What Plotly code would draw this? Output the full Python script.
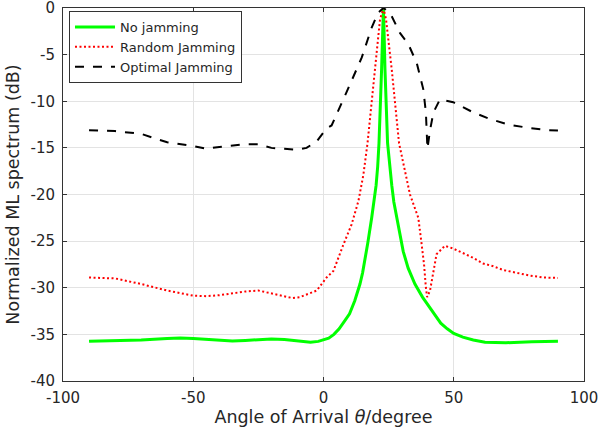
import plotly.graph_objects as go

# ---- data ----
theta_none = [-90, -80, -70, -60, -55, -50, -45, -40, -35, -30, -25, -20, -15, -10, -5, -2,
              0, 2, 4, 6, 8, 10, 12, 14, 15, 16, 17, 18.5, 19.5, 20.2, 20.8, 21.3, 22.3, 22.8, 23,
              23.2, 23.6, 24.6, 25.4, 26.2, 27, 28.1, 29.3, 30.6, 32.5, 35.1, 38, 40.9, 43, 45,
              47.5, 50, 53.5, 57.5, 62, 70, 80, 90]
ml_none = [-35.75, -35.7, -35.6, -35.45, -35.4, -35.45, -35.55, -35.65, -35.7, -35.65, -35.55, -35.5, -35.55, -35.7, -35.85, -35.75,
           -35.6, -35.4, -35.0, -34.4, -33.6, -32.8, -31.4, -29.6, -28.4, -26.9, -25.2, -22.5, -20.6, -19.0, -17.0, -14.5, -6.6, -2.0, 0.0,
           -2.0, -6.6, -14.5, -17.2, -19.0, -20.8, -22.5, -24.4, -26.1, -27.9, -29.6, -31.0, -32.2, -33.1, -33.8,
           -34.4, -34.9, -35.3, -35.6, -35.85, -35.9, -35.8, -35.75]

theta_random = [-90, -80, -70, -60, -50, -45, -40, -35, -30, -25, -20, -15, -12, -9, -5, -2.6,
                1.2, 3.8, 7.6, 10.8, 13.4, 15.3, 16.9, 19.8, 21.7, 23, 24, 26.2, 29, 33.2,
                36.4, 37.7, 38.6, 39.3, 39.8, 40.9, 42.1, 43.4, 46.6, 49.8, 53.7, 57.5, 61.3,
                65.2, 69, 74.2, 79.3, 84.4, 90]
ml_random = [-28.9, -29.0, -29.6, -30.3, -30.85, -30.9, -30.8, -30.6, -30.4, -30.3, -30.6, -30.9, -31.1, -31.0, -30.6, -30.3,
             -28.9, -28.2, -25.4, -23.2, -20.7, -17.9, -14.5, -6.6, -1.2, 0.0, -1.2, -6.6, -14.5, -20.0,
             -22.5, -25.4, -27.5, -30.0, -31.0, -30.3, -28.2, -26.4, -25.5, -25.8, -26.3, -26.8, -27.4,
             -27.7, -28.1, -28.4, -28.7, -28.9, -28.95]

theta_optimal = [-90, -80, -70, -60, -50, -45, -40, -30, -25, -20, -15, -10, -6.5, -2.6, 1.2,
                 3.1, 8.9, 11.4, 14.7, 18.5, 21, 23, 25.5, 29.4, 32.6, 35.8, 38.3, 39.3, 39.9,
                 40.9, 42.2, 44.7, 49.8, 57.5, 63.9, 71, 78.6, 86.3, 90]
ml_optimal = [-13.1, -13.2, -13.5, -14.4, -14.8, -15.1, -14.9, -14.6, -14.6, -15.0, -15.1, -15.2, -15.0, -14.3, -12.9,
              -12.6, -9.0, -7.4, -5.3, -2.1, -0.5, 0.0, -0.5, -2.7, -3.9, -5.9, -8.7, -11.2, -15.1,
              -13.1, -11.2, -9.8, -10.1, -11.2, -11.9, -12.5, -12.85, -13.1, -13.15]

x_ticks = [-100, -50, 0, 50, 100]
x_ticklabels = ["-100", "-50", "0", "50", "100"]
y_ticks = [-40, -35, -30, -25, -20, -15, -10, -5, 0]
y_ticklabels = ["-40", "-35", "-30", "-25", "-20", "-15", "-10", "-5", "0"]

FONT = "DejaVu Sans"
TXT = "#262626"

fig = go.Figure()
fig.add_trace(go.Scatter(x=theta_none, y=ml_none, mode="lines", name="No jamming",
                         line=dict(color="#00ff00", width=3)))
fig.add_trace(go.Scatter(x=theta_random, y=ml_random, mode="lines", name="Random Jamming",
                         line=dict(color="#ff0000", width=2, dash="2px,2.5px")))
fig.add_trace(go.Scatter(x=theta_optimal, y=ml_optimal, mode="lines", name="Optimal Jamming",
                         line=dict(color="#000000", width=2, dash="9px,9px")))

axis_common = dict(
    showgrid=True, gridcolor="#e3e3e3", gridwidth=1,
    showline=True, linecolor="#333333", linewidth=1, mirror="ticks",
    ticks="inside", ticklen=4, tickcolor="#333333", tickwidth=1,
    zeroline=False, ticklabeloverflow="allow",
    tickfont=dict(family=FONT, size=15, color=TXT),
)

fig.update_layout(
    width=598, height=434,
    margin=dict(l=63, r=14, t=8, b=53),
    paper_bgcolor="white", plot_bgcolor="white",
    font=dict(family=FONT, color=TXT),
    xaxis=dict(range=[-100, 100], tickvals=x_ticks, ticktext=x_ticklabels,
               title=dict(text="Angle of Arrival <i>θ</i>/degree",
                          font=dict(family=FONT, size=17.5, color=TXT), standoff=3),
               automargin=False, ticklabelstandoff=3, **axis_common),
    yaxis=dict(range=[-40, 0], tickvals=y_ticks, ticktext=y_ticklabels,
               title=dict(text="Normalized ML spectrum (dB)",
                          font=dict(family=FONT, size=17.5, color=TXT), standoff=6),
               automargin=False, ticklabelstandoff=4, **axis_common),
    legend=dict(x=0.0115, y=0.992, xanchor="left", yanchor="top",
                bgcolor="white", bordercolor="#333333", borderwidth=1,
                font=dict(family=FONT, size=13, color=TXT),
                tracegroupgap=0, itemwidth=40),
    showlegend=True,
)

fig.write_html("out.html", config={"displayModeBar": False},
               post_script="document.body.style.margin='0';document.body.style.overflow='hidden';")
